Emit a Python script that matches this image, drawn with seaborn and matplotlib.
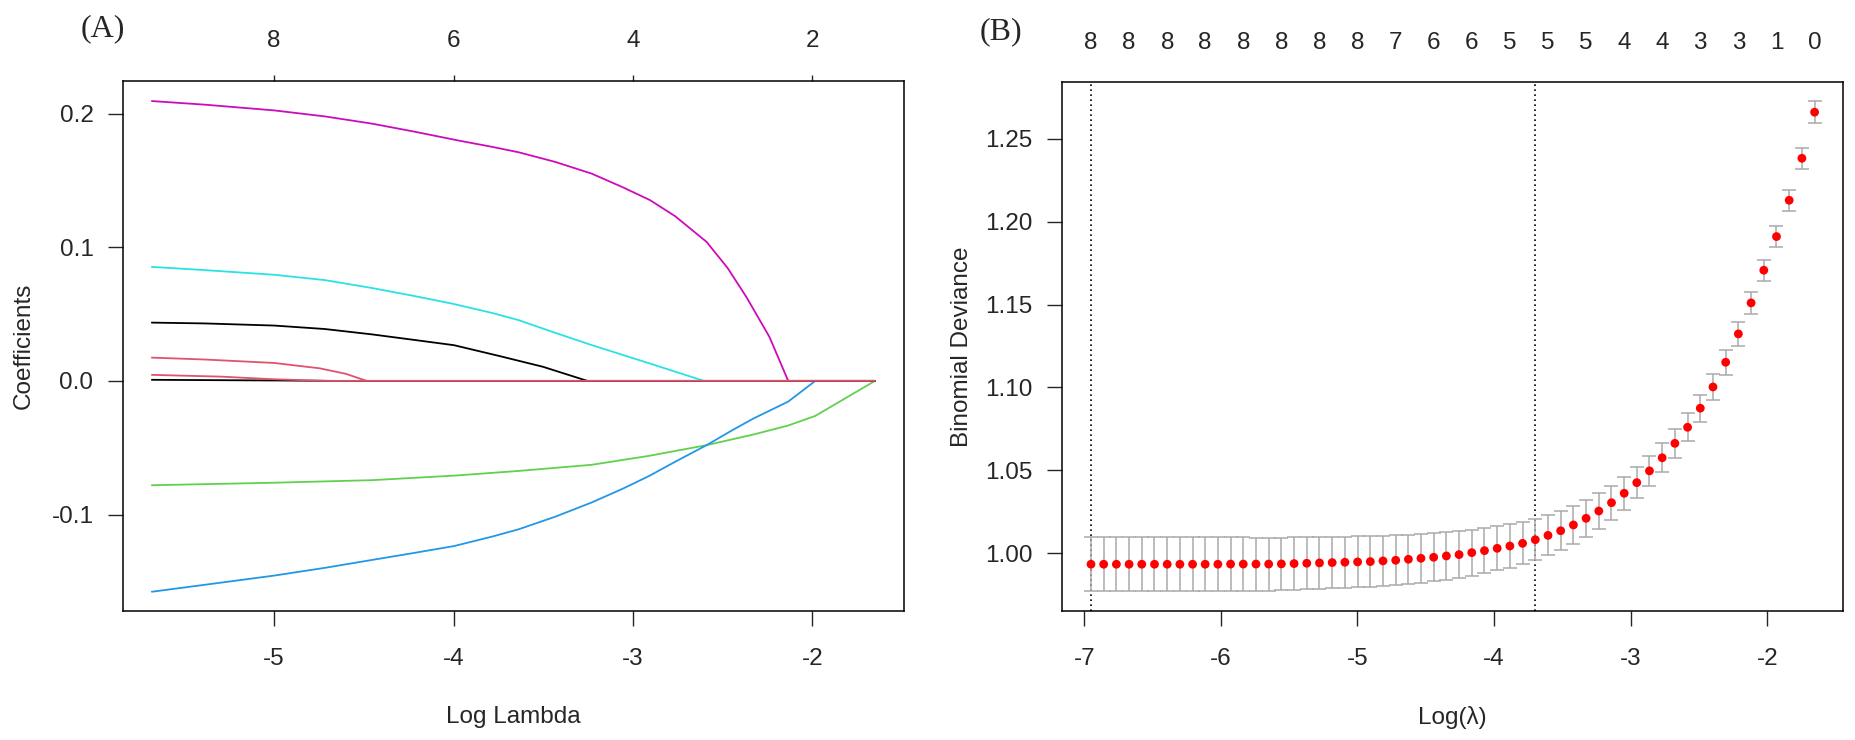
import pandas as pd
import matplotlib
matplotlib.use("Agg")
import matplotlib.pyplot as plt
import seaborn as sns

# ---------------- (A) lasso coefficient paths ----------------
# one x/y list per coefficient (log lambda, coefficient)
mag_x = [-5.682, -5.388, -5.0, -4.717, -4.455, -4.222, -3.974, -3.784, -3.638, -3.434,
         -3.230, -3.055, -2.905, -2.764, -2.589, -2.472, -2.366, -2.239, -2.134, -1.650]
mag_y = [0.2094, 0.2067, 0.2024, 0.1979, 0.1925, 0.1866, 0.1799, 0.1751, 0.1711, 0.1639,
         0.1551, 0.1448, 0.1353, 0.1232, 0.1040, 0.0845, 0.0625, 0.0330, 0.0, 0.0]

cyan_x = [-5.682, -5.388, -5.0, -4.717, -4.455, -4.222, -3.997, -3.784, -3.638, -3.434,
          -3.230, -2.910, -2.604, -1.650]
cyan_y = [0.0853, 0.0829, 0.0794, 0.0754, 0.0695, 0.0636, 0.0575, 0.0508, 0.0455, 0.0360,
          0.0268, 0.0132, 0.0, 0.0]

black1_x = [-5.682, -5.388, -5.0, -4.717, -4.455, -4.222, -3.997, -3.741, -3.50, -3.254, -1.650]
black1_y = [0.0436, 0.0430, 0.0414, 0.0388, 0.0348, 0.0307, 0.0267, 0.0185, 0.0105, 0.0, 0.0]

red1_x = [-5.682, -5.388, -5.0, -4.746, -4.601, -4.484, -1.650]
red1_y = [0.0174, 0.0160, 0.0134, 0.0094, 0.0053, 0.0, 0.0]

black2_x = [-5.682, -5.0, -4.66, -1.650]
black2_y = [0.0008, 0.0003, 0.0, 0.0]

red2_x = [-5.682, -5.3, -5.0, -4.7, -1.650]
red2_y = [0.0045, 0.0032, 0.0012, 0.0, 0.0]

green_x = [-5.682, -5.0, -4.455, -3.997, -3.638, -3.230, -2.910, -2.589, -2.327, -2.134, -1.983, -1.650]
green_y = [-0.0781, -0.0762, -0.0743, -0.0709, -0.0674, -0.0628, -0.0561, -0.0481, -0.0401, -0.0334,
           -0.0262, 0.0]

blue_x = [-5.682, -5.388, -5.0, -4.717, -4.455, -4.222, -3.997, -3.784, -3.638, -3.434,
          -3.230, -3.055, -2.910, -2.764, -2.589, -2.443, -2.327, -2.134, -1.983, -1.650]
blue_y = [-0.1578, -0.1526, -0.1457, -0.1399, -0.1340, -0.1288, -0.1236, -0.1165, -0.1111, -0.1017,
          -0.0910, -0.0806, -0.0712, -0.0605, -0.0481, -0.0367, -0.0281, -0.0155, 0.0, 0.0]

# draw order follows R's matplot colour cycle 1:6
path_names = ["V1", "V2", "V3", "V4", "V5", "V6", "V7", "V8"]
path_data = [(black1_x, black1_y), (red1_x, red1_y), (green_x, green_y), (blue_x, blue_y),
             (cyan_x, cyan_y), (mag_x, mag_y), (black2_x, black2_y), (red2_x, red2_y)]
path_colors = ["#000000", "#DF536B", "#61D04F", "#2297E6", "#28E2E5", "#CD0BBC", "#000000", "#DF536B"]

df_top_ticks = [-5, -4, -3, -2]
df_top_labels = ["8", "6", "4", "2"]

# ---------------- (B) cross-validation curve ----------------
log_lambda = [-6.951, -6.858, -6.765, -6.672, -6.579, -6.486, -6.393, -6.300, -6.207, -6.115,
              -6.022, -5.929, -5.836, -5.743, -5.650, -5.557, -5.464, -5.371, -5.278, -5.185,
              -5.092, -4.999, -4.906, -4.813, -4.720, -4.627, -4.535, -4.442, -4.349, -4.256,
              -4.163, -4.070, -3.977, -3.884, -3.791, -3.698, -3.605, -3.512, -3.419, -3.326,
              -3.233, -3.140, -3.047, -2.955, -2.862, -2.769, -2.676, -2.583, -2.490, -2.397,
              -2.304, -2.211, -2.118, -2.025, -1.932, -1.839, -1.746, -1.653]
cv_mean = [0.9934, 0.9934, 0.9934, 0.9934, 0.9934, 0.9934, 0.9934, 0.9934, 0.9934, 0.9934,
           0.9934, 0.9935, 0.9935, 0.9935, 0.9935, 0.9936, 0.9938, 0.9940, 0.9942, 0.9944,
           0.9946, 0.9948, 0.9950, 0.9954, 0.9958, 0.9964, 0.9970, 0.9976, 0.9984, 0.9992,
           1.0004, 1.0016, 1.0030, 1.0044, 1.0060, 1.0082, 1.0108, 1.0136, 1.0171, 1.0211,
           1.0255, 1.0305, 1.0362, 1.0426, 1.0497, 1.0576, 1.0663, 1.0760, 1.0875, 1.1003,
           1.1152, 1.1323, 1.1510, 1.1707, 1.1910, 1.2129, 1.2382, 1.2660]
cv_se = [0.0164, 0.0164, 0.0164, 0.0164, 0.0164, 0.0164, 0.0163, 0.0163, 0.0163, 0.0162,
         0.0162, 0.0161, 0.0161, 0.0160, 0.0160, 0.0159, 0.0159, 0.0158, 0.0157, 0.0156,
         0.0155, 0.0154, 0.0153, 0.0152, 0.0151, 0.0149, 0.0147, 0.0145, 0.0143, 0.0141,
         0.0139, 0.0136, 0.0133, 0.0130, 0.0127, 0.0124, 0.0120, 0.0118, 0.0115, 0.0111,
         0.0107, 0.0103, 0.0099, 0.0095, 0.0091, 0.0088, 0.0086, 0.0084, 0.0082, 0.0079,
         0.0074, 0.0070, 0.0067, 0.0064, 0.0064, 0.0064, 0.0065, 0.0067]
nz_labels = ["8", "8", "8", "8", "8", "8", "8", "8", "7", "6",
             "6", "5", "5", "5", "4", "4", "3", "3", "1", "0"]
log_lambda_min = -6.951
log_lambda_1se = -3.698

# ---------------- style ----------------
sns.set_style("ticks")
plt.rcParams['font.family'] = ['Liberation Sans', 'DejaVu Sans']
plt.rcParams['axes.unicode_minus'] = False
plt.rcParams['axes.linewidth'] = 1.1

FS = 17.5
TL = 10.8  # tick length in points

fig = plt.figure(figsize=(18.56, 7.40), dpi=100)
axA = fig.add_axes([0.06654, 0.17432, 0.42047, 0.71568])
axB = fig.add_axes([0.57236, 0.17432, 0.42064, 0.71530])

# ---- panel A ----
rows = []
for name, (xs, ys) in zip(path_names, path_data):
    for i, (x, y) in enumerate(zip(xs, ys)):
        rows.append({"var": name, "order": i, "log_lambda": x, "coef": y})
paths = pd.DataFrame(rows)

sns.lineplot(data=paths, x="log_lambda", y="coef", hue="var", hue_order=path_names,
             palette=dict(zip(path_names, path_colors)), units="var", estimator=None,
             sort=False, legend=False, linewidth=1.3, ax=axA)

axA.set_xlim(-5.840, -1.489)
axA.set_ylim(-0.1722, 0.2241)
axA.set_xticks([-5, -4, -3, -2])
axA.set_xticklabels(["-5", "-4", "-3", "-2"])
axA.set_yticks([-0.1, 0.0, 0.1, 0.2])
axA.set_yticklabels(["-0.1", "0.0", "0.1", "0.2"])
axA.set_xlabel("Log Lambda", fontsize=FS)
axA.set_ylabel("Coefficients", fontsize=FS)
axA.xaxis.set_label_coords(0.5, -0.180)
axA.yaxis.set_label_coords(-0.1134, 0.5)
axA.tick_params(axis="x", direction="out", length=TL, width=1, pad=16.0, labelsize=FS)
axA.tick_params(axis="y", direction="out", length=TL, width=1, pad=10.8, labelsize=FS)

topA = axA.secondary_xaxis("top")
topA.set_xticks(df_top_ticks, labels=df_top_labels)
topA.tick_params(direction="out", length=4.3, width=1, pad=16.6, labelsize=FS)

# ---- panel B ----
axB.errorbar(log_lambda, cv_mean, yerr=cv_se, fmt="none", ecolor="darkgrey",
             elinewidth=1.1, capsize=5, capthick=1.1, zorder=2)
sns.scatterplot(x=log_lambda, y=cv_mean, color="red", s=40, edgecolor="none",
                zorder=3, ax=axB)
axB.axvline(log_lambda_min, color="black", linestyle=(0, (1, 2)), linewidth=1.2, zorder=1)
axB.axvline(log_lambda_1se, color="black", linestyle=(0, (1, 2)), linewidth=1.2, zorder=1)

axB.set_xlim(-7.161, -1.445)
axB.set_ylim(0.9652, 1.2844)
axB.set_xticks([-7, -6, -5, -4, -3, -2])
axB.set_xticklabels(["-7", "-6", "-5", "-4", "-3", "-2"])
axB.set_yticks([1.00, 1.05, 1.10, 1.15, 1.20, 1.25])
axB.set_yticklabels(["1.00", "1.05", "1.10", "1.15", "1.20", "1.25"])
axB.set_xlabel("Log(λ)", fontsize=FS)
axB.set_ylabel("Binomial Deviance", fontsize=FS)
axB.xaxis.set_label_coords(0.5, -0.180)
axB.yaxis.set_label_coords(-0.1144, 0.5)
axB.tick_params(axis="x", direction="out", length=TL, width=1, pad=16.0, labelsize=FS)
axB.tick_params(axis="y", direction="out", length=TL, width=1, pad=10.8, labelsize=FS)

topB = axB.secondary_xaxis("top")
topB.set_xticks(log_lambda[::3], labels=nz_labels)
topB.tick_params(length=0, pad=20.0, labelsize=FS)

for ax in (axA, axB):
    for sp in ax.spines.values():
        sp.set_visible(True)
        sp.set_color("black")
        sp.set_linewidth(1.1)
for sec in (topA, topB):
    sec.spines["top"].set_visible(False)

# panel letters
fig.text(103 / 1856, 1 - 28.3 / 740, "(A)", ha="center", va="center",
         fontsize=23, family=["Liberation Serif", "DejaVu Serif"])
fig.text(1001 / 1856, 1 - 31.7 / 740, "(B)", ha="center", va="center",
         fontsize=23, family=["Liberation Serif", "DejaVu Serif"])

fig.savefig("out.png", dpi=100, facecolor="white")
plt.close(fig)
